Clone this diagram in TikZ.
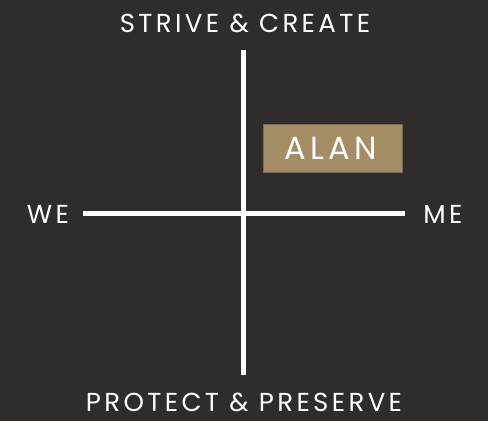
\documentclass[tikz,border=0pt]{standalone}
\usepackage{fontspec}
\setmainfont{Poppins}
\newfontfamily\spacedfont[LetterSpace=13]{Poppins}
\newfontfamily\namefont[LetterSpace=14]{Poppins}
\definecolor{bgdark}{HTML}{302C29}
\definecolor{gold}{HTML}{A48C64}
\definecolor{goldedge}{HTML}{7A6C58}
\begin{document}
\begin{tikzpicture}[x=1pt,y=-1pt,
  axis/.style={draw=white,line width=5pt},
  label/.style={text=white,inner sep=0pt,font=\spacedfont\fontsize{26}{26}\selectfont},
  namebox/.style={fill=gold,draw=goldedge,line width=1pt,text=white,inner sep=0pt,
    minimum width=139pt,minimum height=48pt,font=\namefont\fontsize{32}{32}\selectfont}]
  \fill[bgdark] (0,0) rectangle (488,421);
  \useasboundingbox (0,0) rectangle (488,421);
  % quadrant axes
  \coordinate (top) at (243.5,50);
  \coordinate (bottom) at (243.5,375);
  \coordinate (left) at (83,213);
  \coordinate (right) at (405,213);
  \draw[axis] (top) -- (bottom);
  \draw[axis] (left) -- (right);
  % axis labels
  \node[label] (strive) at (245,23) {STRIVE \& CREATE};
  \node[label] (protect) at (244,402.5) {PROTECT \& PRESERVE};
  \node[label] (we) at (48,214.5) {WE};
  \node[label] (me) at (443,214.5) {ME};
  % placed name
  \node[namebox] (alan) at (332.5,148.5) {\hspace{-4pt}ALAN};
\end{tikzpicture}
\end{document}
